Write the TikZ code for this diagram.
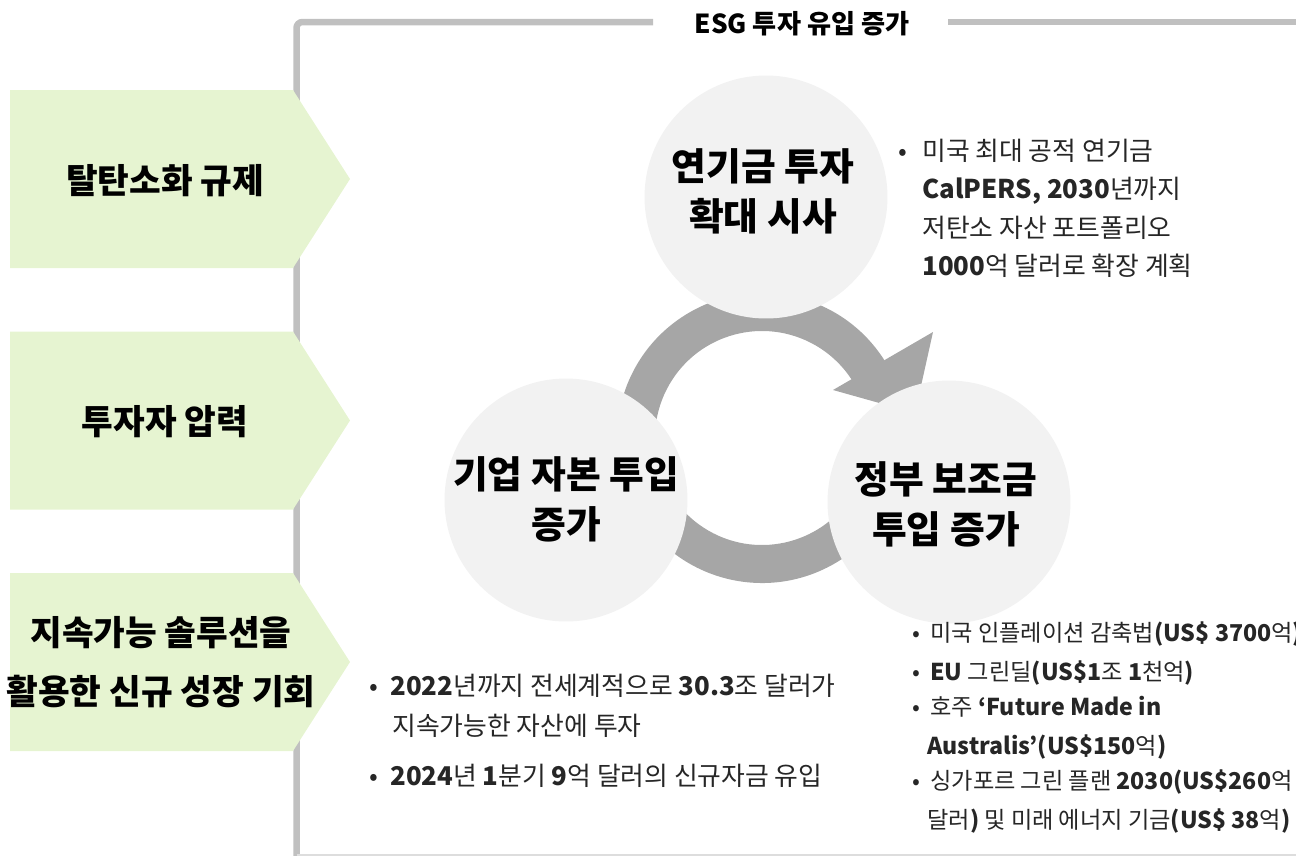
\documentclass[tikz,border=0pt]{standalone}
\usepackage{fontspec}
\setmainfont{Noto Sans CJK KR}
\usetikzlibrary{calc}
\definecolor{framegray}{HTML}{C0C0C0}
\definecolor{framelight}{HTML}{DDDDDD}
\definecolor{boxgreen}{HTML}{E6F4D1}
\definecolor{circgray}{HTML}{F2F2F2}
\definecolor{ringgray}{HTML}{A6A6A6}
\definecolor{txtgray}{HTML}{262626}
\tikzset{
  framestroke/.style={draw=framegray, line width=0.13cm},
  greenbox/.style={fill=boxgreen},
  boxtext/.style={font=\fontsize{19.6}{33.4}\selectfont\bfseries, align=center, text=black, inner sep=0},
  circ/.style={circle, fill=circgray, minimum size=4.86cm, inner sep=0},
  circtext/.style={font=\fontsize{21.5}{28.5}\selectfont\bfseries, align=center, text=black, inner sep=0},
  titletext/.style={font=\fontsize{14.9}{16}\selectfont\bfseries, text=black, inner sep=0},
  bul/.style={anchor=base, font=\fontsize{14.7}{16}\selectfont, text=txtgray, inner sep=0},
  ln/.style={anchor=base west, font=\fontsize{14.7}{16}\selectfont, text=txtgray, inner sep=0},
  bulsm/.style={anchor=base, font=\fontsize{13.2}{16}\selectfont, text=txtgray, inner sep=0},
  lnsm/.style={anchor=base west, font=\fontsize{13.2}{16}\selectfont, text=txtgray, inner sep=0},
}
\begin{document}
\begin{tikzpicture}[x=0.02cm,y=-0.02cm]
\useasboundingbox (0,0) rectangle (1296,856);
% frame
\draw[framestroke, rounded corners=0.12cm] (296.5,870) -- (296.5,22) -- (653,22);
\draw[framestroke] (948,22) -- (1310,22);
\draw[draw=framelight, line width=0.04cm] (296.5,855) -- (1310,855);
\node[titletext] (title) at (802,24) {ESG 투자 유입 증가};

% green arrow boxes
\fill[greenbox] (10,90) -- (293,90) -- (350,179) -- (293,268) -- (10,268) -- cycle;
\fill[greenbox] (10,331.5) -- (293,331.5) -- (350,420.5) -- (293,509.5) -- (10,509.5) -- cycle;
\fill[greenbox] (10,573) -- (293,573) -- (350,662) -- (293,751) -- (10,751) -- cycle;
\node[boxtext] (b1) at (165,181) {탈탄소화 규제};
\node[boxtext] (b2) at (165,422) {투자자 압력};
\node[boxtext] (b3) at (161,662) {지속가능 솔루션을\\활용한 신규 성장 기회};

% cycle ring
\coordinate (rc) at (762,438);
\fill[ringgray] ($(rc)+(-31:145)$) arc[start angle=-31, end angle=-330, radius=145]
  -- ($(rc)+(-330:107)$) arc[start angle=-330, end angle=-31, radius=107] -- cycle;
\fill[ringgray] (833,390) -- (933,332) -- (915,413) -- cycle;

% circles
\node[circ] (ctop) at (766,197) {};
\node[circ] (cleft) at (566,500) {};
\node[circ] (cright) at (949,502) {};
\node[circtext] (ttop) at (763,191) {연기금 투자\\확대 시사};
\node[circtext] (tleft) at (566,499) {기업 자본 투입\\증가};
\node[circtext] (tright) at (946,504) {정부 보조금\\투입 증가};

% top-right list
\node[bul] (trb) at (903,160) {•};
\node[ln] (tr1) at (922,160) {미국 최대 공적 연기금};
\node[ln] (tr2) at (922,198) {\textbf{CalPERS, 2030}년까지};
\node[ln] (tr3) at (922,237) {저탄소 자산 포트폴리오};
\node[ln] (tr4) at (922,275) {\textbf{1000}억 달러로 확장 계획};

% bottom-right list
\node[bulsm] (brb1) at (916,641) {•};
\node[bulsm] (brb2) at (916,680) {•};
\node[bulsm] (brb3) at (916,715) {•};
\node[bulsm] (brb5) at (916,789) {•};
\node[lnsm] (br1) at (930,641) {미국 인플레이션 감축법\textbf{(US\$ 3700}억\textbf{)}};
\node[lnsm] (br2) at (930,680) {\textbf{EU} 그린딜\textbf{(US\$1}조 \textbf{1}천억\textbf{)}};
\node[lnsm] (br3) at (930,715) {호주 \textbf{‘Future Made in}};
\node[lnsm] (br4) at (927,754) {\textbf{Australis’(US\$150}억\textbf{)}};
\node[lnsm] (br5) at (930,789) {싱가포르 그린 플랜 \textbf{2030(US\$260}억};
\node[lnsm] (br6) at (927,828) {달러\textbf{)} 및 미래 에너지 기금\textbf{(US\$ 38}억\textbf{)}};

% bottom-middle list
\node[bul] (bmb1) at (374,695) {•};
\node[ln] (bm1) at (390,695) {\textbf{2022}년까지 전세계적으로 \textbf{30.3}조 달러가};
\node[ln] (bm2) at (392,735) {지속가능한 자산에 투자};
\node[bul] (bmb3) at (374,785) {•};
\node[ln] (bm3) at (390,785) {\textbf{2024}년 \textbf{1}분기 \textbf{9}억 달러의 신규자금 유입};
\end{tikzpicture}
\end{document}
